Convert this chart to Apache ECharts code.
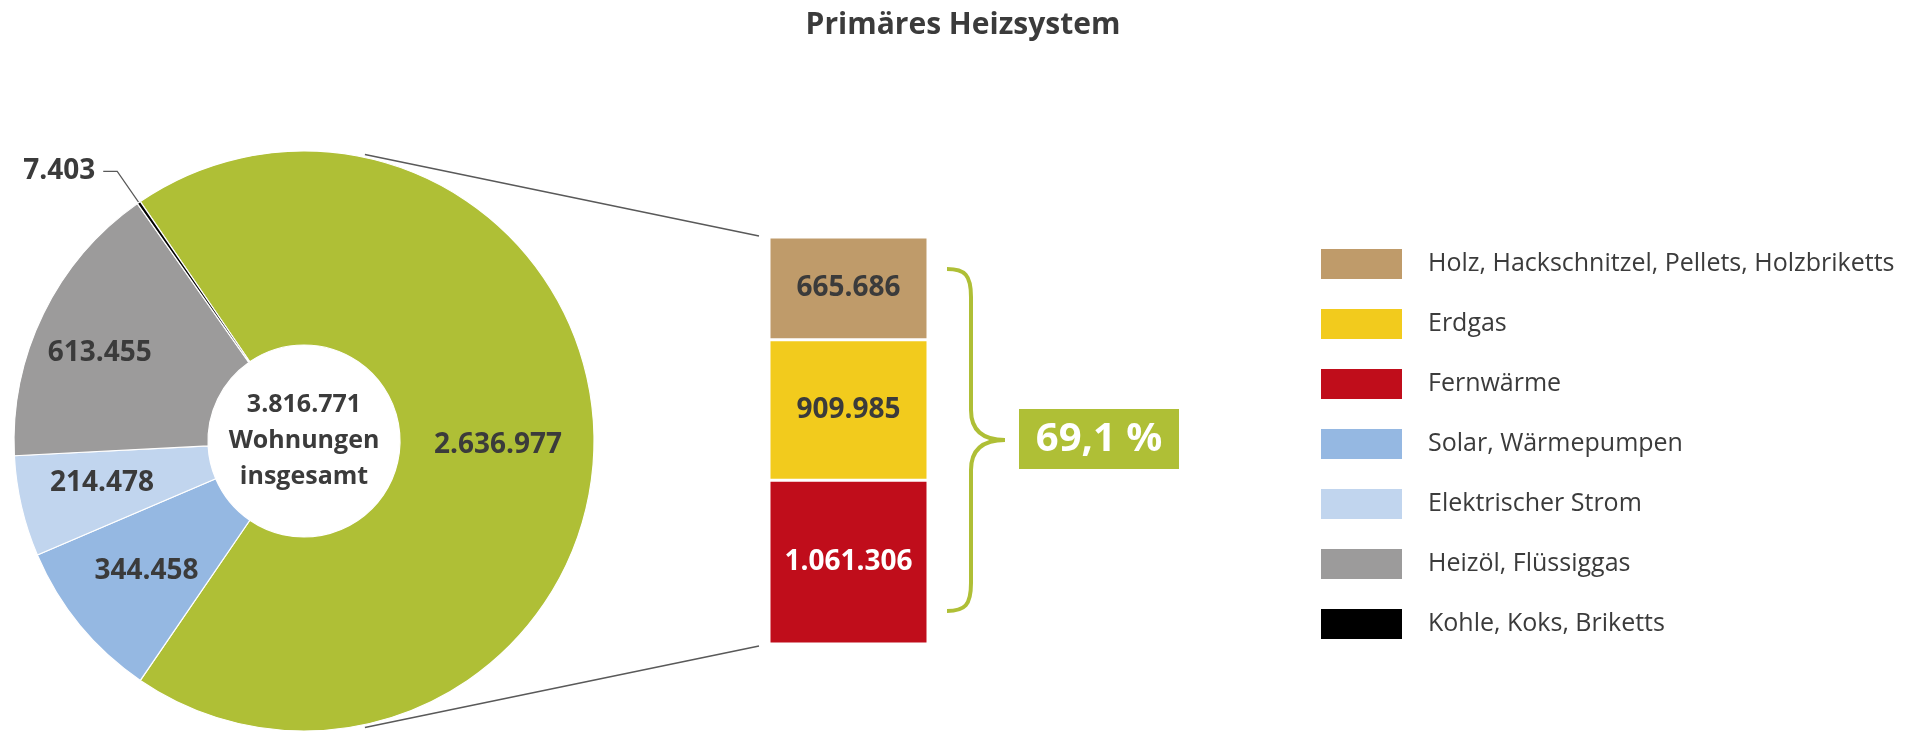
<!DOCTYPE html>
<html>
<head>
<meta charset="utf-8">
<script src="https://cdn.jsdelivr.net/npm/echarts@6/dist/echarts.min.js"></script>
<style>
  html, body { margin: 0; padding: 0; background: #ffffff; }
  #chart { width: 1926px; height: 732px; }
</style>
</head>
<body>
<div id="chart"></div>
<script>
// ---------------- data ----------------
const chartTitle = 'Primäres Heizsystem';
const legendNames = ['Holz, Hackschnitzel, Pellets, Holzbriketts', 'Erdgas', 'Fernwärme',
  'Solar, Wärmepumpen', 'Elektrischer Strom', 'Heizöl, Flüssiggas', 'Kohle, Koks, Briketts'];
// bar of pie (stacked from bottom to top)
const barNames = ['Fernwärme', 'Erdgas', 'Holz, Hackschnitzel, Pellets, Holzbriketts'];
const barValues = [1061306, 909985, 665686];
// remaining pie slices (clockwise after the aggregated slice)
const pieNames = ['Solar, Wärmepumpen', 'Elektrischer Strom', 'Heizöl, Flüssiggas', 'Kohle, Koks, Briketts'];
const pieValues = [344458, 214478, 613455, 7403];
const aggregateName = 'Holz, Erdgas, Fernwärme';
const centerWords = ['Wohnungen', 'insgesamt'];

// ---------------- styles ----------------
const colors = {
  'Holz, Hackschnitzel, Pellets, Holzbriketts': '#BF9B6A',
  'Erdgas': '#F2CB1D',
  'Fernwärme': '#C00D1B',
  'Solar, Wärmepumpen': '#95B8E2',
  'Elektrischer Strom': '#C1D5EE',
  'Heizöl, Flüssiggas': '#9C9B9B',
  'Kohle, Koks, Briketts': '#000000'
};
// small nudges of the inside labels (style only)
const labelNudge = {
  'Holz, Erdgas, Fernwärme': [-2, 4],
  'Solar, Wärmepumpen': [-6, 6],
  'Elektrischer Strom': [-11, -2],
  'Heizöl, Flüssiggas': [-28, -2]
};
const green = '#AFBF36';
const dark = '#3B3B3B';
const FONT = '"Open Sans", "Noto Sans", sans-serif';

const fmt = v => String(Math.round(v)).replace(/\B(?=(\d{3})+(?!\d))/g, '.');
const sum = a => a.reduce((s, v) => s + v, 0);

const barTotal = sum(barValues);
const total = barTotal + sum(pieValues);
const share = barTotal / total;
const shareText = (share * 100).toFixed(1).replace('.', ',') + ' %';

// layout
const pieC = [304, 441];
const pieR = [96, 290];
const grid = { left: 769, top: 237, width: 159, height: 407 };

const pieData = [{ name: aggregateName, value: barTotal, itemStyle: { color: green } }]
  .concat(pieNames.map((n, i) => ({ name: n, value: pieValues[i], itemStyle: { color: colors[n] } })))
  .map(d => {
    if (d.name === 'Kohle, Koks, Briketts') {
      d.label = { position: 'outside', distanceToLabelLine: 8 };
      d.labelLine = { show: true, length: 38, length2: 14, lineStyle: { color: '#595959', width: 1.2 } };
    } else if (labelNudge[d.name]) {
      d.label = { offset: labelNudge[d.name] };
    }
    return d;
  });

// aggregated slice centred on the right side (3 o'clock)
const startAngle = share * 360 / 2;

const barSeries = barNames.map((n, i) => ({
  name: n,
  type: 'bar',
  stack: 'all',
  barWidth: '100%',
  data: [barValues[i]],
  itemStyle: { color: colors[n], borderColor: '#ffffff', borderWidth: 1.5 },
  label: {
    show: true, position: 'inside', formatter: p => fmt(p.value),
    color: n === 'Fernwärme' ? '#ffffff' : dark,
    fontFamily: FONT, fontWeight: 'bold', fontSize: 28
  },
  emphasis: { disabled: true },
  silent: true
}));

// decoration geometry derived from the layout
const ang = 12 * Math.PI / 180;
const rr = pieR[1] + 3;
const lineTop = { x1: pieC[0] + rr * Math.sin(ang), y1: pieC[1] - rr * Math.cos(ang), x2: grid.left - 10, y2: grid.top - 1 };
const lineBot = { x1: pieC[0] + rr * Math.sin(ang), y1: pieC[1] + rr * Math.cos(ang), x2: grid.left - 10, y2: grid.top + grid.height + 2 };

const bx0 = 947, bxv = 971, bxt = 1005, by0 = 269, by1 = 611, bym = (by0 + by1) / 2;
const braceStyle = { fill: null, stroke: green, lineWidth: 4 };
const braceParts = [
  { type: 'bezierCurve', shape: { x1: bx0, y1: by0, cpx1: bx0 + 18, cpy1: by0, cpx2: bxv, cpy2: by0 + 6, x2: bxv, y2: by0 + 28 } },
  { type: 'line', shape: { x1: bxv, y1: by0 + 28, x2: bxv, y2: bym - 30 } },
  { type: 'bezierCurve', shape: { x1: bxv, y1: bym - 30, cpx1: bxv, cpy1: bym - 8, cpx2: bxv + 14, cpy2: bym, x2: bxt, y2: bym } },
  { type: 'bezierCurve', shape: { x1: bxt, y1: bym, cpx1: bxv + 14, cpy1: bym, cpx2: bxv, cpy2: bym + 8, x2: bxv, y2: bym + 30 } },
  { type: 'line', shape: { x1: bxv, y1: bym + 30, x2: bxv, y2: by1 - 28 } },
  { type: 'bezierCurve', shape: { x1: bxv, y1: by1 - 28, cpx1: bxv, cpy1: by1 - 6, cpx2: bx0 + 18, cpy2: by1, x2: bx0, y2: by1 } }
].map(p => Object.assign(p, { style: braceStyle, silent: true }));

const box = { x: 1019, y: 409, width: 160, height: 60 };

const option = {
  animation: false,
  backgroundColor: '#ffffff',
  title: {
    text: chartTitle, left: 'center', top: 5,
    textStyle: { fontFamily: FONT, fontWeight: 'bold', fontSize: 30, color: dark }
  },
  legend: {
    data: legendNames,
    orient: 'vertical', left: 1319, top: 247, padding: 0,
    itemWidth: 83, itemHeight: 32, itemGap: 26, icon: 'rect',
    textStyle: { fontFamily: FONT, fontSize: 25, color: dark, padding: [0, 0, 0, 20] },
    selectedMode: false
  },
  grid: Object.assign({ containLabel: false }, grid),
  xAxis: { type: 'category', data: [''], show: false, boundaryGap: true },
  yAxis: { type: 'value', min: 0, max: barTotal, show: false },
  series: [{
    type: 'pie',
    center: pieC,
    radius: pieR,
    startAngle: startAngle,
    clockwise: true,
    avoidLabelOverlap: false,
    data: pieData,
    itemStyle: { borderColor: '#ffffff', borderWidth: 1.2 },
    label: {
      show: true, position: 'inside', formatter: p => fmt(p.value),
      color: dark, fontFamily: FONT, fontWeight: 'bold', fontSize: 28
    },
    labelLine: { show: false },
    emphasis: { disabled: true },
    silent: true
  }].concat(barSeries),
  graphic: [
    { type: 'line', shape: lineTop, style: { stroke: '#595959', lineWidth: 1.5 }, silent: true },
    { type: 'line', shape: lineBot, style: { stroke: '#595959', lineWidth: 1.5 }, silent: true }
  ].concat(braceParts).concat([
    { type: 'rect', shape: box, style: { fill: green }, silent: true },
    { type: 'text', x: box.x + box.width / 2, y: box.y + box.height / 2 + 1,
      style: { text: shareText, fill: '#ffffff', fontFamily: FONT, fontWeight: 'bold', fontSize: 40,
        align: 'center', verticalAlign: 'middle' }, silent: true },
    { type: 'text', x: pieC[0], y: pieC[1],
      style: { text: [fmt(total)].concat(centerWords).join('\n'), fill: dark, fontFamily: FONT,
        fontWeight: 'bold', fontSize: 25, lineHeight: 36, align: 'center', verticalAlign: 'middle' }, silent: true }
  ])
};

const chart = echarts.init(document.getElementById('chart'), null, { renderer: 'canvas' });
chart.setOption(option);
</script>
</body>
</html>
